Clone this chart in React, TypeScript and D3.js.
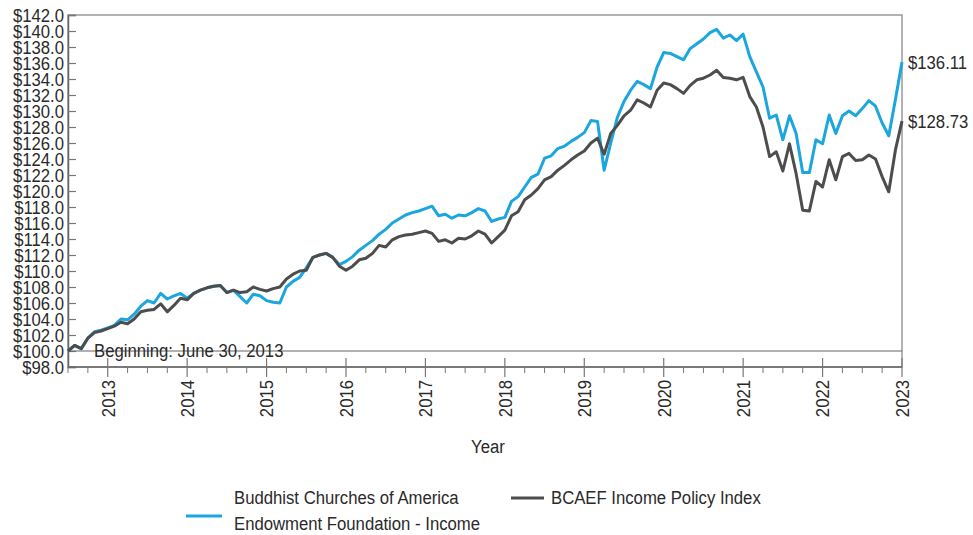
import React, { useEffect, useRef } from 'react';
import * as d3 from 'd3';

// monthly values, first point = June 2012 on the axis (labelled "Beginning: June 30, 2013")
const startYear = 2012.5;

const fundValues = [
  100.0, 100.7, 100.3, 101.6, 102.4, 102.6, 102.9, 103.2, 104.0, 103.9,
  104.6, 105.6, 106.3, 106.0, 107.2, 106.5, 106.9, 107.2, 106.6, 107.2,
  107.6, 107.9, 108.1, 108.2, 107.3, 107.6, 106.8, 106.0, 107.1, 106.9,
  106.3, 106.1, 106.0, 108.0, 108.7, 109.2, 110.4, 111.7, 112.0, 112.2,
  111.7, 110.8, 111.2, 111.8, 112.6, 113.2, 113.8, 114.6, 115.2, 116.0,
  116.5, 117.0, 117.3, 117.5, 117.8, 118.1, 116.9, 117.1, 116.6, 117.0,
  116.9, 117.3, 117.8, 117.5, 116.2, 116.5, 116.7, 118.7, 119.3, 120.5,
  121.7, 122.1, 124.1, 124.4, 125.3, 125.6, 126.2, 126.7, 127.3, 128.8,
  128.7, 122.6, 126.0, 129.2, 131.2, 132.6, 133.7, 133.3, 132.8, 135.5,
  137.3, 137.2, 136.8, 136.4, 137.8, 138.4, 139.0, 139.8, 140.2, 139.1,
  139.5, 138.8, 139.6, 136.8, 134.9, 133.0, 129.1, 129.5, 126.4, 129.4,
  127.2, 122.3, 122.3, 126.4, 125.9, 129.5, 127.2, 129.4, 130.0, 129.4,
  130.3, 131.3, 130.6, 128.5, 126.9, 131.4, 136.11,
];

const indexValues = [
  100.0, 100.7, 100.3, 101.6, 102.3, 102.5, 102.8, 103.1, 103.6, 103.4,
  104.0, 104.9, 105.1, 105.2, 105.9, 104.9, 105.7, 106.6, 106.4, 107.2,
  107.6, 107.9, 108.1, 108.2, 107.3, 107.6, 107.3, 107.4, 108.0, 107.7,
  107.5, 107.8, 108.0, 109.0, 109.6, 110.0, 110.1, 111.7, 112.0, 112.2,
  111.7, 110.6, 110.1, 110.6, 111.4, 111.6, 112.2, 113.2, 113.0, 113.9,
  114.3, 114.5, 114.6, 114.8, 115.0, 114.7, 113.7, 113.9, 113.5, 114.1,
  114.0, 114.4, 115.0, 114.6, 113.5, 114.3, 115.1, 116.9, 117.4, 118.9,
  119.5, 120.3, 121.4, 121.8, 122.6, 123.2, 123.9, 124.5, 125.0, 126.0,
  126.6, 124.6, 127.2, 128.2, 129.4, 130.1, 131.4, 131.0, 130.5, 132.6,
  133.5, 133.3, 132.8, 132.2, 133.2, 133.9, 134.1, 134.5, 135.1, 134.2,
  134.1, 133.9, 134.2, 131.8, 130.5, 128.0, 124.3, 124.9, 122.5, 125.9,
  122.2, 117.6, 117.5, 121.2, 120.5, 123.9, 121.4, 124.3, 124.7, 123.8,
  123.9, 124.5, 124.0, 121.8, 119.9, 125.1, 128.73,
];

const yearTicks = [2013, 2014, 2015, 2016, 2017, 2018, 2019, 2020, 2021, 2022, 2023];
const yTicks = d3.range(98, 142.01, 2);

const seriesNames = ['Buddhist Churches of America', 'Endowment Foundation - Income'];
const indexName = 'BCAEF Income Policy Index';
const startNote = 'Beginning: June 30, 2013';

const BLUE = '#1ba6de';
const GRAY = '#4d4d4d';
const FONT = '"Liberation Sans", Arial, sans-serif';
const FS = 19;
const SQUEEZE = 0.88; // the source uses a condensed face

const App = () => {
  const ref = useRef<SVGSVGElement>(null);

  useEffect(() => {
    if (!ref.current) return;
    const svg = d3.select(ref.current);
    svg.selectAll('*').remove();

    const left = 68, right = 902, top = 15, bottom = 367;

    const x = d3.scaleLinear().domain([startYear, 2023]).range([left, right]);
    const y = d3.scaleLinear().domain([98, 142]).range([bottom, top]);

    // narrow text helper
    const label = (g: any, tx: number, ty: number, s: string, anchor = 'start', rot = 0) =>
      g.append('text')
        .attr('transform', `translate(${tx},${ty})${rot ? ` rotate(${rot})` : ''} scale(${SQUEEZE},1)`)
        .attr('dy', '0.36em')
        .attr('text-anchor', anchor)
        .attr('font-family', FONT)
        .attr('font-size', FS)
        .attr('fill', '#2a2a2a')
        .text(s);

    // frame
    svg.append('rect')
      .attr('x', left).attr('y', top)
      .attr('width', right - left).attr('height', bottom - top)
      .attr('fill', 'none').attr('stroke', '#9a9a9a').attr('stroke-width', 1.5);

    // left axis, ticks pointing inward
    const yAxis = svg.append('g')
      .attr('transform', `translate(${left},0)`)
      .call(d3.axisRight(y).tickValues(yTicks).tickSize(8).tickFormat(() => ''));
    yAxis.select('.domain').attr('stroke', '#666').attr('stroke-width', 1.5);
    yAxis.selectAll('.tick line').attr('stroke', '#777').attr('stroke-width', 1.2);

    const yLabels = svg.append('g');
    yTicks.forEach(d => label(yLabels, left - 4, y(d), `$${d.toFixed(1)}`, 'end'));

    // bottom axis with quarterly minor ticks
    svg.append('line')
      .attr('x1', left).attr('x2', right).attr('y1', bottom).attr('y2', bottom)
      .attr('stroke', '#666').attr('stroke-width', 1.5);

    const quarters = d3.range(startYear, 2023.001, 0.25).filter(q => !yearTicks.includes(q));
    svg.append('g')
      .selectAll('line')
      .data(quarters)
      .join('line')
      .attr('x1', d => x(d)).attr('x2', d => x(d))
      .attr('y1', bottom).attr('y2', bottom + 6)
      .attr('stroke', '#777').attr('stroke-width', 1);

    svg.append('g')
      .selectAll('line')
      .data(yearTicks)
      .join('line')
      .attr('x1', d => x(d)).attr('x2', d => x(d))
      .attr('y1', bottom - 9).attr('y2', bottom + 10)
      .attr('stroke', '#777').attr('stroke-width', 1.2);

    const xLabels = svg.append('g');
    yearTicks.forEach(d => label(xLabels, x(d), bottom + 13, String(d), 'end', -90));

    label(svg, (left + right) / 2 + 3, 446, 'Year', 'middle');

    // $100 base line
    svg.append('line')
      .attr('x1', left).attr('x2', right).attr('y1', y(100)).attr('y2', y(100))
      .attr('stroke', '#666').attr('stroke-width', 1.2);

    label(svg, x(startYear) + 26, y(100) - 1, startNote);

    // lines
    const line = d3.line<number>()
      .x((_, i) => x(startYear + i / 12))
      .y(d => y(d));

    svg.append('path')
      .datum(fundValues)
      .attr('d', line)
      .attr('fill', 'none')
      .attr('stroke', BLUE)
      .attr('stroke-width', 3)
      .attr('stroke-linejoin', 'round');

    svg.append('path')
      .datum(indexValues)
      .attr('d', line)
      .attr('fill', 'none')
      .attr('stroke', GRAY)
      .attr('stroke-width', 3)
      .attr('stroke-linejoin', 'round');

    // end value labels
    const endLabels = [fundValues[fundValues.length - 1], indexValues[indexValues.length - 1]];
    endLabels.forEach(d => label(svg, right + 6, y(d), `$${d.toFixed(2)}`));

    // legend
    const legend = svg.append('g');
    legend.append('line')
      .attr('x1', 186).attr('x2', 222).attr('y1', 516).attr('y2', 516)
      .attr('stroke', BLUE).attr('stroke-width', 3);
    label(legend, 234, 497, seriesNames[0]);
    label(legend, 234, 523, seriesNames[1]);
    legend.append('line')
      .attr('x1', 511).attr('x2', 544).attr('y1', 498).attr('y2', 498)
      .attr('stroke', GRAY).attr('stroke-width', 3);
    label(legend, 551, 497, indexName);
  }, []);

  return (
    <svg
      ref={ref}
      width={973}
      height={535}
      style={{ position: 'absolute', left: 0, top: 0, background: '#fff' }}
    />
  );
};

export default App;
